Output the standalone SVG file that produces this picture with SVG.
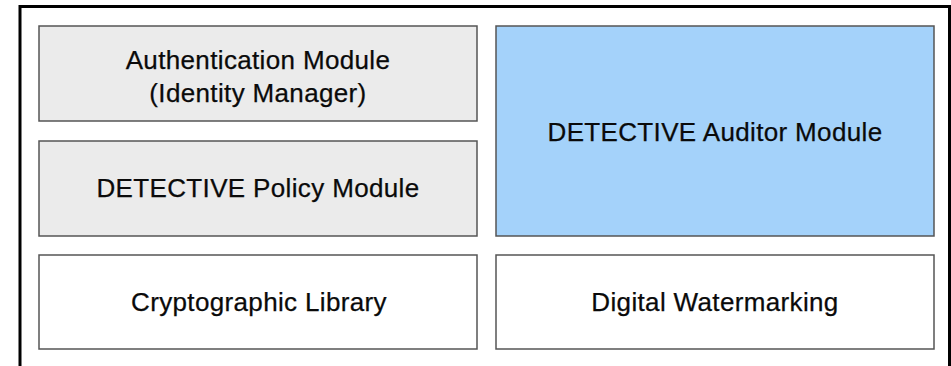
<svg xmlns="http://www.w3.org/2000/svg" width="951" height="366" viewBox="0 0 951 366">
<style>
.box{stroke:#555;stroke-width:1.5}
.grey{fill:#ebebeb}
.blue{fill:#a4d2fa}
.white{fill:#fff}
text{font-family:"Liberation Sans",Arial,sans-serif;font-size:26px;letter-spacing:0.35px;fill:#0a0a0a;text-anchor:middle;stroke:#0a0a0a;stroke-width:0.25}
</style>
<rect width="951" height="366" fill="#fff"/>
<path d="M20 366 V6.5 H949.5 V366" fill="none" stroke="#000" stroke-width="3"/>
<g id="auth"><rect class="box grey" x="39" y="26" width="438" height="95"/><text x="258" y="69">Authentication Module</text><text x="258" y="102">(Identity Manager)</text></g>
<g id="policy"><rect class="box grey" x="39" y="141" width="438" height="95"/><text x="258" y="197">DETECTIVE Policy Module</text></g>
<g id="crypto"><rect class="box white" x="39" y="255" width="438" height="94"/><text x="259" y="311">Cryptographic Library</text></g>
<g id="auditor"><rect class="box blue" x="496" y="26" width="438" height="210"/><text x="715" y="141">DETECTIVE Auditor Module</text></g>
<g id="watermark"><rect class="box white" x="496" y="255" width="438" height="94"/><text x="715" y="311">Digital Watermarking</text></g>
<g id="connectors"/>
</svg>
